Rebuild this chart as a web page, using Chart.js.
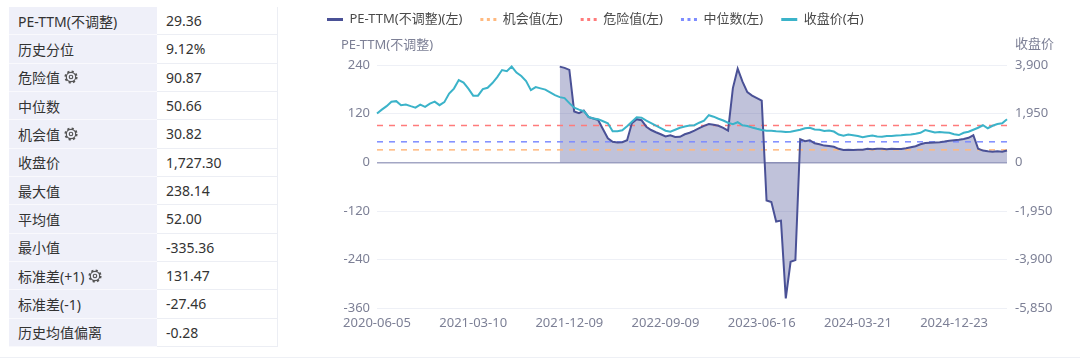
<!DOCTYPE html>
<html>
<head>
<meta charset="utf-8">
<script src="https://cdn.jsdelivr.net/npm/chart.js@4.4.1/dist/chart.umd.min.js"></script>
<style>
  body { margin: 0; width: 1080px; height: 360px; background: #fff; overflow: hidden; position: relative;
         font-family: "Noto Sans", "Noto Sans CJK SC", sans-serif; }
  #stats { position: absolute; left: 9px; top: 7px; width: 268px; border-right: 1px solid #eceef4; }
  .row { display: flex; height: 28.33px; font-size: 14px; color: #333; }
  .row div { display: flex; align-items: center; box-sizing: border-box; padding-left: 9px; }
  .k { width: 148px; background: #eff0f9; border-bottom: 1px solid #f9f9fd; }
  .v { flex: 1; background: #fff; border-bottom: 1px solid #eceef4; }
  .k svg { margin-left: 4px; }
  #wrap { position: absolute; left: 309px; top: -6px; width: 771px; height: 348px; }
  #bottomLine { position: absolute; left: 0; top: 357px; width: 1080px; height: 1px; background: #eef0f5; }
</style>
</head>
<body>
<div id="stats"></div>
<div id="wrap"><canvas id="c"></canvas></div>
<div id="bottomLine"></div>
<script>
// summary table
const statLabels = ['PE-TTM(不调整)', '历史分位', '危险值', '中位数', '机会值', '收盘价', '最大值', '平均值', '最小值', '标准差(+1)', '标准差(-1)', '历史均值偏离'];
const statValues = ['29.36', '9.12%', '90.87', '50.66', '30.82', '1,727.30', '238.14', '52.00', '-335.36', '131.47', '-27.46', '-0.28'];
const statGear = [false, false, true, false, true, false, false, false, false, true, false, false];

// chart data
const tickLabels = ['2020-06-05', '2021-03-10', '2021-12-09', '2022-09-09', '2023-06-16', '2024-03-21', '2024-12-23'];
const dangerValue = 90.87;
const medianValue = 50.66;
const chanceValue = 30.82;

const peTTM = [
  null, null, null, null, null, null, null, null, null, null,
  null, null, null, null, null, null, null, null, null, null,
  null, null, null, null, null, null, null, null, null, null,
  null, null, null, null, null, null, null, null,
  236, 233, 228, 125.5, 121.3, 127.5, 111.4, 108.2, 104, 81.7, 59.4, 50.7,
  48.8, 49.5, 54.5, 96.5, 106.4, 104, 87.9, 79.7, 74.3, 69.3,
  63.9, 66.8, 62.6, 63.1, 69.3, 73, 78, 84.2, 89.9, 94.6,
  92.8, 90.3, 84.9, 78, 183, 231, 199, 173, 164.6, 158.4,
  152.2, -94, -97.8, -146, -143.6, -335.36, -245, -241, 57, 52,
  54.5, 47, 44.6, 41.3, 40.3, 38.4, 33.4, 30.4, 30.9, 30.2,
  30.9, 30.9, 33.4, 32.2, 33.4, 33.4, 32.2, 33.4, 32.9, 32.7,
  34.7, 37.1, 39.6, 44.6, 47.5, 48.3, 48.8, 49.5, 51.2, 53.2,
  54.5, 55.7, 57.7, 60.6, 66.8, 33.4, 29, 27.2, 26, 27.2,
  26, 29.36
];

const closePrice = [
  1958, 2111, 2251, 2432, 2452, 2291, 2320, 2251, 2191, 2312,
  2223, 2352, 2432, 2291, 2412, 2754, 2955, 3296, 3196, 2955,
  2673, 2673, 2935, 2987, 3176, 3417, 3698, 3650, 3839, 3598,
  3457, 3256, 2894, 3015, 2963, 2915, 2802, 2693, 2613, 2573,
  2372, 2191, 2111, 2050, 1821, 1757, 1729, 1648, 1568, 1246,
  1246, 1286, 1447, 1628, 1809, 1789, 1668, 1576, 1467, 1367,
  1266, 1226, 1307, 1387, 1439, 1475, 1487, 1588, 1668, 1889,
  1829, 1749, 1676, 1588, 1528, 1608, 1487, 1459, 1395, 1343,
  1298, 1262, 1266, 1246, 1234, 1214, 1226, 1266, 1307, 1367,
  1387, 1315, 1307, 1254, 1278, 1234, 1113, 1065, 1113, 1085,
  1053, 1005, 1045, 1073, 1033, 1029, 1057, 1057, 1077, 1085,
  1105, 1113, 1146, 1186, 1294, 1246, 1194, 1214, 1198, 1182,
  1126, 1093, 1186, 1226, 1307, 1387, 1487, 1367, 1467, 1536,
  1568, 1727.30
];

// build the table
const gearSvg = '<svg width="14" height="14" viewBox="0 0 24 24"><circle cx="12" cy="12" r="8" fill="none" stroke="#555" stroke-width="2"/>' +
  '<circle cx="12" cy="12" r="9.5" fill="none" stroke="#555" stroke-width="3.5" stroke-dasharray="3.6 3.86"/>' +
  '<circle cx="12" cy="12" r="3" fill="none" stroke="#555" stroke-width="2"/></svg>';
const stats = document.getElementById('stats');
statLabels.forEach((label, i) => {
  const row = document.createElement('div');
  row.className = 'row';
  row.innerHTML = '<div class="k">' + label + (statGear[i] ? gearSvg : '') + '</div><div class="v">' + statValues[i] + '</div>';
  stats.appendChild(row);
});

// dates: every 14 days from each tick date
const dates = [];
for (let i = 0; i < closePrice.length; i++) {
  const d = new Date(tickLabels[Math.floor(i / 20)] + 'T00:00:00Z');
  d.setUTCDate(d.getUTCDate() + (i % 20) * 14);
  dates.push(d.toISOString().slice(0, 10));
}
const first = dates[0], last = dates[dates.length - 1];

const fontFamily = '"Noto Sans", "Noto Sans CJK SC", sans-serif';
Chart.defaults.font.family = fontFamily;

// axis names drawn above the two y axes
const axisTitles = {
  id: 'axisTitles',
  afterDraw(chart) {
    const { ctx, chartArea } = chart;
    ctx.save();
    ctx.font = '13px ' + fontFamily;
    ctx.fillStyle = '#7d8096';
    ctx.textBaseline = 'middle';
    ctx.textAlign = 'left';
    ctx.fillText('PE-TTM(不调整)', 32, chartArea.top - 20);
    ctx.fillText('收盘价', chartArea.right + 8, chartArea.top - 21);
    ctx.restore();
  }
};

const refLine = (label, value, color) => ({
  label: label,
  data: [{ x: first, y: value }, { x: last, y: value }],
  yAxisID: 'y',
  borderColor: color,
  borderWidth: 1.5,
  borderDash: [6, 6],
  pointRadius: 0,
  fill: false,
  order: 2
});

new Chart(document.getElementById('c'), {
  type: 'line',
  data: {
    labels: dates,
    datasets: [
      {
        label: 'PE-TTM(不调整)(左)',
        data: peTTM,
        yAxisID: 'y',
        borderColor: '#4a5196',
        backgroundColor: 'rgba(74,81,150,0.35)',
        borderWidth: 2,
        pointRadius: 0,
        fill: 'origin',
        order: 1
      },
      refLine('机会值(左)', chanceValue, '#ffb97f'),
      refLine('危险值(左)', dangerValue, '#ff7b7b'),
      refLine('中位数(左)', medianValue, '#7d8cff'),
      {
        label: '收盘价(右)',
        data: closePrice,
        yAxisID: 'y1',
        borderColor: '#3bb3c9',
        borderWidth: 2,
        pointRadius: 0,
        fill: false,
        order: 0
      }
    ]
  },
  options: {
    responsive: true,
    maintainAspectRatio: false,
    animation: false,
    events: [],
    layout: { padding: { left: 0, right: 0, top: 1, bottom: 4 } },
    plugins: {
      filler: { drawTime: 'beforeDatasetsDraw' },
      tooltip: { enabled: false },
      title: { display: true, text: '', weight: 500, font: { size: 10 }, padding: { top: 0, bottom: 17 } },
      legend: {
        position: 'top',
        align: 'start',
        labels: {
          usePointStyle: true,
          pointStyle: 'line',
          pointStyleWidth: 16,
          padding: 18,
          color: '#4a4a4a',
          font: { size: 13 },
          generateLabels: (chart) => {
            const items = Chart.defaults.plugins.legend.labels.generateLabels(chart);
            items.sort((a, b) => a.datasetIndex - b.datasetIndex);
            items.forEach(it => {
              const ds = chart.data.datasets[it.datasetIndex];
              it.lineWidth = 3;
              it.pointStyle = 'line';
              it.strokeStyle = ds.borderColor;
              it.lineDash = ds.borderDash ? [3, 3.5] : [];
            });
            return items;
          }
        }
      }
    },
    scales: {
      x: {
        type: 'category',
        grid: { display: false, drawTicks: false },
        border: { display: false },
        ticks: {
          autoSkip: false,
          maxRotation: 0,
          padding: 7,
          color: '#7d8096',
          font: { size: 13 },
          callback: (v, i) => (i % 20 === 0 ? dates[i] : null)
        }
      },
      y: {
        position: 'left',
        min: -360,
        max: 240,
        afterFit: (s) => { s.width = 68; },
        grid: {
          drawTicks: false,
          color: (c) => (c.tick && c.tick.value === 0 ? '#a3a6c4' : '#eef0f6'),
          lineWidth: (c) => (c.tick && c.tick.value === 0 ? 1.5 : 1)
        },
        border: { display: false },
        ticks: { stepSize: 120, padding: 7, color: '#7d8096', font: { size: 13 } }
      },
      y1: {
        position: 'right',
        min: -5850,
        max: 3900,
        afterFit: (s) => { s.width = 73; },
        grid: { display: false, drawTicks: false },
        border: { display: false },
        ticks: {
          stepSize: 1950,
          padding: 8,
          color: '#7d8096',
          font: { size: 13 },
          callback: (v) => v.toLocaleString('en-US')
        }
      }
    }
  },
  plugins: [axisTitles]
});
</script>
</body>
</html>
